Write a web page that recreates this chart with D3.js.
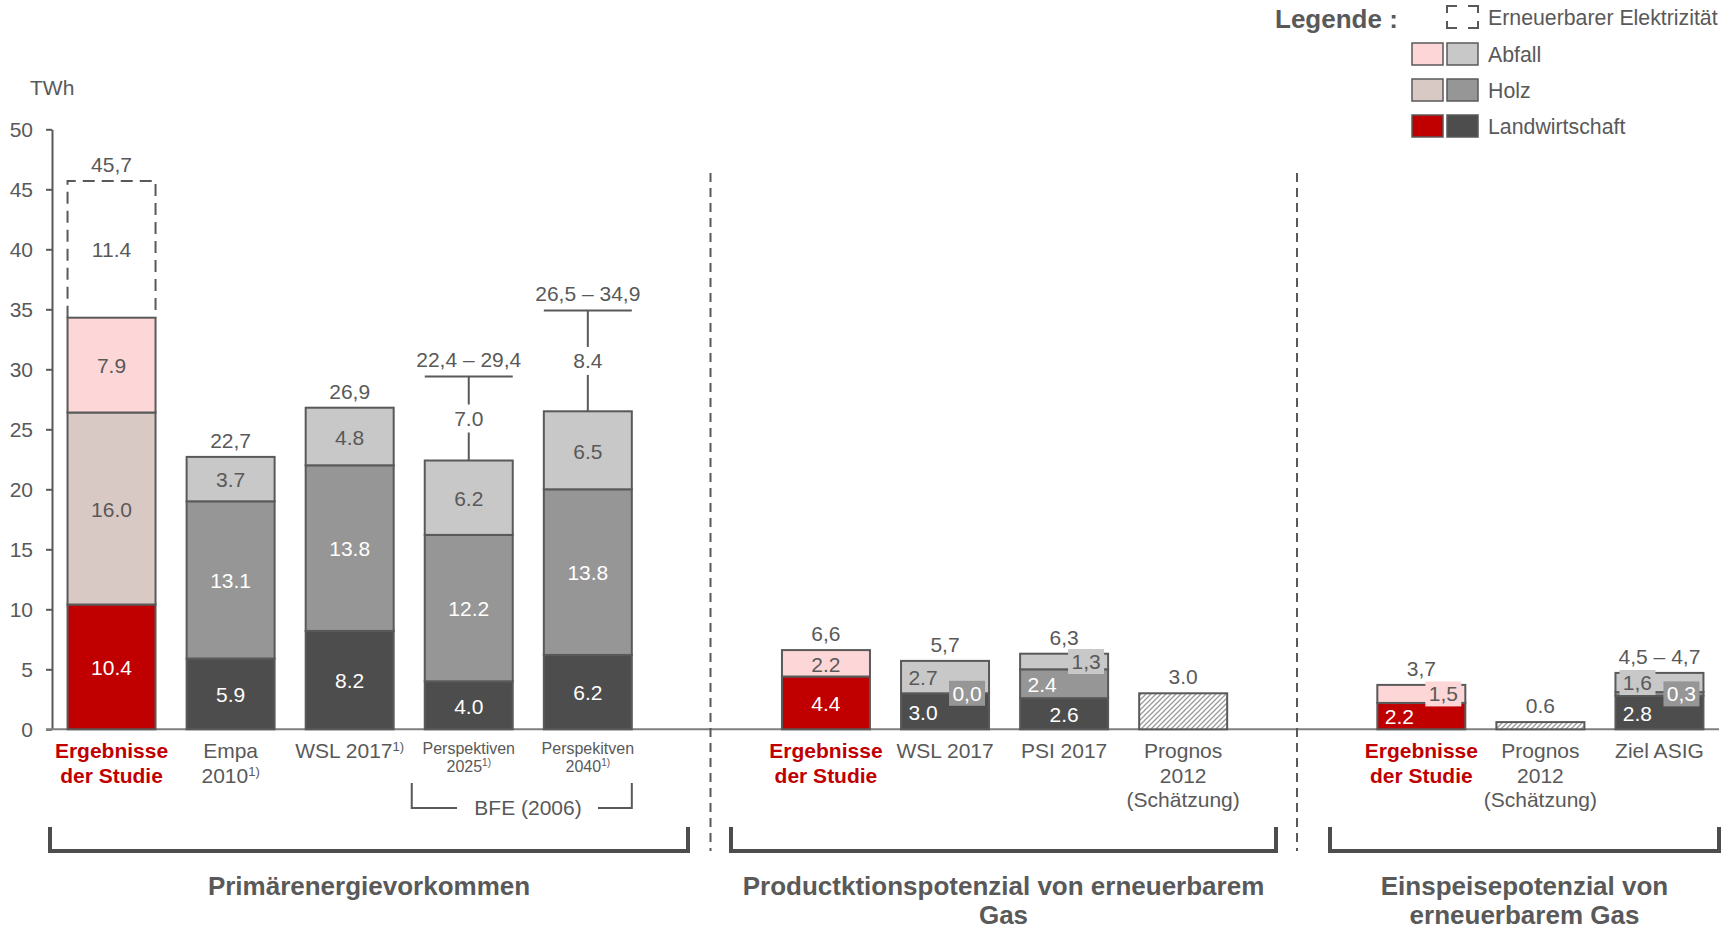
<!DOCTYPE html>
<html><head><meta charset="utf-8">
<script src="https://cdn.jsdelivr.net/npm/d3@7"></script>
<style>
html,body{margin:0;padding:0;background:#fff;}
svg{display:block;font-family:"Liberation Sans",Arial,Helvetica,sans-serif;}
</style></head><body>
<svg id="chart" width="1732" height="929"></svg>
<script>
// ---------------- DATA ----------------
const categoryLines = [
  ["Ergebnisse","der Studie"],["Empa","2010"],["WSL 2017"],["Perspektiven","2025"],["Perspekitven","2040"],
  [],
  ["Ergebnisse","der Studie"],["WSL 2017"],["PSI 2017"],["Prognos","2012","(Schätzung)"],
  [],
  ["Ergebnisse","der Studie"],["Prognos","2012","(Schätzung)"],["Ziel ASIG"]
];
const footnote   = [false,true,true,true,true,false,false,false,false,false,false,false,false,false];
const isStudy    = [true,false,false,false,false,false,true,false,false,false,false,true,false,false];
const smallLabel = [false,false,false,true,true,false,false,false,false,false,false,false,false,false];

const landwirtschaft = [10.4, 5.9, 8.2, 4.0, 6.2, null, 4.4, 3.0, 2.6, null, null, 2.2, null, 2.8];
const holz           = [16.0,13.1,13.8,12.2,13.8, null, null, 0.0, 2.4, null, null, null, null, 0.3];
const abfall         = [ 7.9, 3.7, 4.8, 6.2, 6.5, null, 2.2, 2.7, 1.3, null, null, 1.5, null, 1.6];
const elektrizitaet  = [11.4, null,null,null,null,null, null,null,null,null, null,null,null,null];
const schaetzung     = [null,null,null,null,null,null, null,null,null,3.0, null,null,0.6,null];
const rangeUpper     = [null,null,null,29.4,34.9,null, null,null,null,null, null,null,null,null];
const rangeLabels    = ["","","","7.0","8.4","", "","","","", "","","",""];
const totalLabels    = ["45,7","22,7","26,9","22,4 – 29,4","26,5 – 34,9","",
                        "6,6","5,7","6,3","3.0","","3,7","0.6","4,5 – 4,7"];
const yTicks = [0,5,10,15,20,25,30,35,40,45,50];
const groupTitles = [["Primärenergievorkommen"],["Productktionspotenzial von erneuerbarem","Gas"],["Einspeisepotenzial von","erneuerbarem Gas"]];
const legendItems = ["Erneuerbarer Elektrizität","Abfall","Holz","Landwirtschaft"];

// ---------------- STYLE ----------------
const TXT = "#595959", STROKE = "#595959";
const colStudy = {land:"#c00000", holz:"#d9c9c5", abf:"#fdd7d7"};
const colOther = {land:"#4d4d4d", holz:"#969696", abf:"#c8c8c8"};
const whiteStudy = {land:true, holz:false, abf:false};
const whiteOther = {land:true, holz:true, abf:false};

const svg = d3.select("#chart");
const ids = categoryLines.map((d,i)=>"c"+i);
const x = d3.scaleBand().domain(ids).range([52,1719]).paddingInner(0.261).paddingOuter(0.1305);
const y = d3.scaleLinear().domain([0,50]).range([729.3,129.3]);
const bw = x.bandwidth();

// hatch pattern
const defs = svg.append("defs");
const pat = defs.append("pattern").attr("id","hatch").attr("patternUnits","userSpaceOnUse")
  .attr("width",5).attr("height",5);
pat.append("rect").attr("width",5).attr("height",5).attr("fill","#fff");
pat.append("path").attr("d","M-1,6 L6,-1 M-1,1 L1,-1 M4,6 L6,4").attr("stroke","#9a9a9a").attr("stroke-width",1.3);

// y axis
const yAxis = svg.append("g").attr("transform","translate(52,0)")
  .call(d3.axisLeft(y).tickValues(yTicks).tickSize(6).tickSizeOuter(0).tickPadding(13));
yAxis.select(".domain").attr("stroke",STROKE).attr("stroke-width",2);
yAxis.selectAll(".tick line").attr("stroke",STROKE).attr("stroke-width",2);
yAxis.selectAll(".tick text").attr("fill",TXT).attr("font-size",21).attr("font-family","Liberation Sans, Arial, sans-serif");
svg.append("text").attr("x",30).attr("y",88).attr("dy","0.35em").attr("fill",TXT).attr("font-size",21).text("TWh");

// baseline
svg.append("line").attr("x1",46).attr("x2",1719).attr("y1",y(0)).attr("y2",y(0)).attr("stroke","#7f7f7f").attr("stroke-width",2);

// dividers (between groups)
[710.5, 1297].forEach(xd=>{
  svg.append("line").attr("x1",xd).attr("x2",xd).attr("y1",173).attr("y2",851)
    .attr("stroke",STROKE).attr("stroke-width",2).attr("stroke-dasharray","9 6");
});

// label placement rules (layout only)
const place = {
  "7-land":"left","7-holz":"boxR","7-abf":"left",
  "8-holz":"left","8-abf":"boxR",
  "11-land":"left","11-abf":"boxR",
  "13-land":"left","13-holz":"boxR","13-abf":"boxL"
};

const series = [["land",landwirtschaft],["holz",holz],["abf",abfall]];
const barG = svg.append("g");
const lblG = svg.append("g");

ids.forEach((id,i)=>{
  const x0 = x(id);
  const cx = x0 + bw/2;
  const cols = isStudy[i] ? colStudy : colOther;
  const white = isStudy[i] ? whiteStudy : whiteOther;
  let base = 0;
  let hasStack = false;
  series.forEach(([key,arr])=>{
    const v = arr[i];
    if (v === null) return;
    hasStack = true;
    const yTop = y(base+v), yBot = y(base);
    if (v > 0) {
      barG.append("rect").attr("x",x0).attr("y",yTop).attr("width",bw).attr("height",yBot-yTop)
        .attr("fill",cols[key]).attr("stroke",STROKE).attr("stroke-width",2);
    }
    const mode = place[i+"-"+key] || "center";
    const mid = (yTop+yBot)/2;
    const fmt = d3.format(".1f")(v);
    if (mode === "boxR" || mode === "boxL") {
      const w = 36, h = 25;
      const bx = mode==="boxR" ? x0+bw-4-w : x0+4;
      lblG.append("rect").attr("x",bx).attr("y",mid-h/2).attr("width",w).attr("height",h).attr("fill",cols[key]);
      lblG.append("text").attr("x",bx+w/2).attr("y",mid).attr("dy","0.35em").attr("text-anchor","middle")
        .attr("font-size",21).attr("fill",white[key] ? "#fff" : TXT).text(fmt.replace(".",","));
    } else {
      const tx = mode==="left" ? x0+22 : cx;
      lblG.append("text").attr("x",tx).attr("y",mid+1).attr("dy","0.35em").attr("text-anchor","middle")
        .attr("font-size",21).attr("fill",white[key] ? "#fff" : TXT).text(fmt);
    }
    base += v;
  });
  let top = hasStack ? y(base) : null;
  // dashed electricity part
  if (elektrizitaet[i] !== null) {
    const yT = y(base+elektrizitaet[i]);
    barG.append("path").attr("d",`M${x0},${top} V${yT} H${x0+bw} V${top}`)
      .attr("fill","none").attr("stroke",STROKE).attr("stroke-width",2).attr("stroke-dasharray","12 7");
    lblG.append("text").attr("x",cx).attr("y",(yT+top)/2).attr("dy","0.35em").attr("text-anchor","middle")
      .attr("font-size",21).attr("fill",TXT).text(d3.format(".1f")(elektrizitaet[i]));
    top = yT;
  }
  // estimate (hatched)
  if (schaetzung[i] !== null) {
    top = y(schaetzung[i]);
    barG.append("rect").attr("x",x0).attr("y",top).attr("width",bw).attr("height",y(0)-top)
      .attr("fill","url(#hatch)").attr("stroke",STROKE).attr("stroke-width",2);
  }
  // range indicator
  if (rangeUpper[i] !== null) {
    const yU = y(rangeUpper[i]);
    const m = (yU+top)/2;
    barG.append("line").attr("x1",x0).attr("x2",x0+bw).attr("y1",yU).attr("y2",yU).attr("stroke",STROKE).attr("stroke-width",2);
    barG.append("line").attr("x1",cx).attr("x2",cx).attr("y1",yU).attr("y2",m-14).attr("stroke",STROKE).attr("stroke-width",2);
    barG.append("line").attr("x1",cx).attr("x2",cx).attr("y1",m+14).attr("y2",top).attr("stroke",STROKE).attr("stroke-width",2);
    lblG.append("text").attr("x",cx).attr("y",m).attr("dy","0.35em").attr("text-anchor","middle")
      .attr("font-size",21).attr("fill",TXT).text(rangeLabels[i]);
    top = yU;
  }
  if (top !== null && totalLabels[i]) {
    lblG.append("text").attr("x",cx).attr("y",top-16.5).attr("dy","0.35em").attr("text-anchor","middle")
      .attr("font-size",21).attr("fill",TXT).text(totalLabels[i]);
  }
  // category labels
  const lines = categoryLines[i];
  const small = smallLabel[i];
  const fs = small ? 16 : 21;
  const y0 = small ? 748 : 751, lh = small ? 18.5 : 24.5;
  lines.forEach((ln,k)=>{
    const t = lblG.append("text").attr("x",cx).attr("y",y0+k*lh).attr("dy","0.35em").attr("text-anchor","middle")
      .attr("font-size",fs).attr("fill",isStudy[i] ? "#c00000" : TXT).attr("font-weight",isStudy[i] ? "bold" : null);
    t.append("tspan").text(ln);
    if (footnote[i] && k === lines.length-1) {
      t.append("tspan").attr("font-size",small?10:13).attr("dy",small?"-0.6em":"-0.55em").text("1)");
    }
  });
});

// BFE bracket
{
  const l = x(ids[3]) - 13, r = x(ids[4]) + bw, tc = 528, yb = 808;
  svg.append("path").attr("d",`M${l},783 V${yb} H${tc-71} M${tc+70},${yb} H${r} V783`)
    .attr("fill","none").attr("stroke",STROKE).attr("stroke-width",2);
  svg.append("text").attr("x",tc).attr("y",yb).attr("dy","0.35em").attr("text-anchor","middle")
    .attr("font-size",21).attr("fill",TXT).text("BFE (2006)");
}

// group brackets & titles
const brackets = [[50,688],[731,1276],[1330,1719]];
brackets.forEach(([a,b],g)=>{
  svg.append("path").attr("d",`M${a},827 V851 H${b} V827`).attr("fill","none")
    .attr("stroke","#4d4d4d").attr("stroke-width",4);
  groupTitles[g].forEach((ln,k)=>{
    svg.append("text").attr("x",(a+b)/2).attr("y",886+k*29).attr("dy","0.35em").attr("text-anchor","middle")
      .attr("font-size",26).attr("font-weight","bold").attr("fill",TXT).text(ln);
  });
});

// legend
{
  const lg = svg.append("g");
  lg.append("text").attr("x",1275).attr("y",19).attr("dy","0.35em").attr("font-size",26).attr("font-weight","bold")
    .attr("fill",TXT).text("Legende :");
  const sx1 = 1412, sx2 = 1447, sw = 31, sh = 22, tx = 1488;
  const rowsY = [17,54,90,126];
  // dashed symbol
  const yy = rowsY[0]-sh/2, c = 10, v = 7;
  lg.append("path").attr("d",
    `M${sx2},${yy+v} V${yy} H${sx2+c} M${sx2+sw-c},${yy} H${sx2+sw} V${yy+v} ` +
    `M${sx2},${yy+sh-v} V${yy+sh} H${sx2+c} M${sx2+sw-c},${yy+sh} H${sx2+sw} V${yy+sh-v}`)
    .attr("fill","none").attr("stroke",STROKE).attr("stroke-width",2);
  const keys = [null,"abf","holz","land"];
  legendItems.forEach((name,k)=>{
    const cy = rowsY[k];
    if (keys[k]) {
      lg.append("rect").attr("x",sx1).attr("y",cy-sh/2).attr("width",sw).attr("height",sh)
        .attr("fill",colStudy[keys[k]]).attr("stroke",STROKE).attr("stroke-width",1.5);
      lg.append("rect").attr("x",sx2).attr("y",cy-sh/2).attr("width",sw).attr("height",sh)
        .attr("fill",colOther[keys[k]]).attr("stroke",STROKE).attr("stroke-width",1.5);
    }
    lg.append("text").attr("x",tx).attr("y",cy+1).attr("dy","0.35em").attr("font-size",21.3).attr("fill",TXT).text(name);
  });
}
</script>
</body></html>
